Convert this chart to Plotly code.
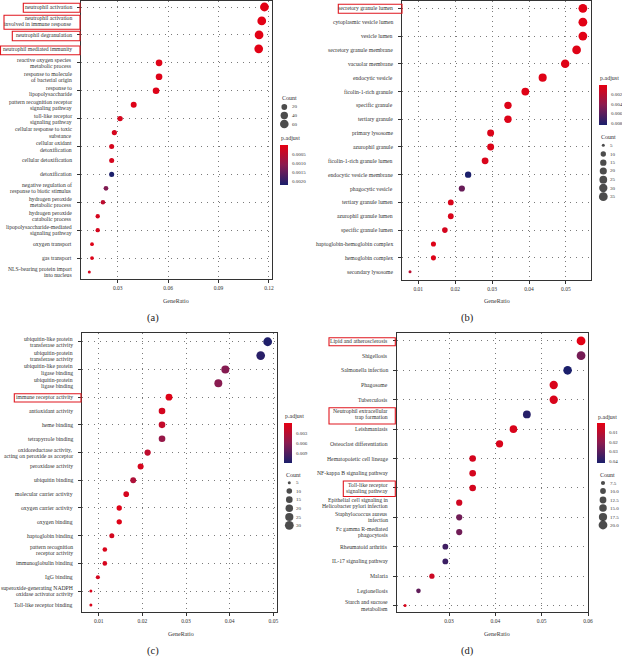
import plotly.graph_objects as go

W, H = 622, 657
FONT = "Liberation Serif"

# ---------------- data ----------------
a_terms = ["neutrophil activation",
           "neutrophil activation<br>involved in immune response",
           "neutrophil degranulation",
           "neutrophil mediated immunity",
           "reactive oxygen species<br>metabolic process",
           "response to molecule<br>of bacterial origin",
           "response to<br>lipopolysaccharide",
           "pattern recognition receptor<br>signaling pathway",
           "toll-like receptor<br>signaling pathway",
           "cellular response to toxic<br>substance",
           "cellular oxidant<br>detoxification",
           "cellular detoxification",
           "detoxification",
           "negative regulation of<br>response to biotic stimulus",
           "hydrogen peroxide<br>metabolic process",
           "hydrogen peroxide<br>catabolic process",
           "lipopolysaccharide-mediated<br>signaling pathway",
           "oxygen transport",
           "gas transport",
           "NLS-bearing protein import<br>into nucleus"]
a_ratio = [0.1173, 0.1157, 0.1141, 0.1139, 0.0546, 0.0546, 0.0528, 0.0395, 0.0314, 0.0280,
           0.0264, 0.0264, 0.0264, 0.0230, 0.0212, 0.0181, 0.0181, 0.0147, 0.0147, 0.0131]
a_count = [64, 63, 62, 62, 30, 30, 29, 22, 17, 15, 14, 14, 14, 12, 11, 10, 10, 8, 8, 7]
a_padj = [0.00005, 0.00005, 0.00005, 0.00005, 0.00008, 0.0001, 0.0001, 0.0001, 0.0002, 0.0002,
          0.0002, 0.0002, 0.0022, 0.0012, 0.0005, 0.0002, 0.0002, 0.0001, 0.0001, 0.0002]

b_terms = ["secretory granule lumen", "cytoplasmic vesicle lumen", "vesicle lumen",
           "secretory granule membrane", "vacuolar membrane", "endocytic vesicle",
           "ficolin-1-rich granule", "specific granule", "tertiary granule", "primary lysosome",
           "azurophil granule", "ficolin-1-rich granule lumen", "endocytic vesicle membrane",
           "phagocytic vesicle", "tertiary granule lumen", "azurophil granule lumen",
           "specific granule lumen", "haptoglobin-hemoglobin complex", "hemoglobin complex",
           "secondary lysosome"]
b_ratio = [0.0546, 0.0546, 0.0546, 0.0529, 0.0498, 0.0437, 0.0390, 0.0343, 0.0343, 0.0296,
           0.0296, 0.0281, 0.0235, 0.0218, 0.0188, 0.0188, 0.0172, 0.0141, 0.0141, 0.00775]
b_count = [35, 35, 35, 34, 32, 28, 25, 22, 22, 19, 19, 18, 15, 14, 12, 12, 11, 9, 9, 5]
b_padj = [0.0002, 0.0002, 0.0002, 0.0003, 0.0003, 0.0003, 0.0003, 0.0004, 0.0004, 0.0005,
          0.0005, 0.0006, 0.0084, 0.0055, 0.0006, 0.0006, 0.0008, 0.0004, 0.0004, 0.0020]

c_terms = ["ubiquitin-like protein<br>transferase activity",
           "ubiquitin-protein<br>transferase activity",
           "ubiquitin-like protein<br>ligase binding",
           "ubiquitin-protein<br>ligase binding",
           "immune receptor activity",
           "antioxidant activity",
           "heme binding",
           "tetrapyrrole binding",
           "oxidoreductase activity,<br>acting on peroxide as acceptor",
           "peroxidase activity",
           "ubiquitin binding",
           "molecular carrier activity",
           "oxygen carrier activity",
           "oxygen binding",
           "haptoglobin binding",
           "pattern recognition<br>receptor activity",
           "immunoglobulin binding",
           "IgG binding",
           "superoxide-generating NADPH<br>oxidase activator activity",
           "Toll-like receptor binding"]
c_ratio = [0.0487, 0.0471, 0.0390, 0.0374, 0.0261, 0.0245, 0.0245, 0.0245, 0.0212, 0.0196,
           0.0179, 0.0163, 0.0147, 0.0147, 0.0130, 0.0114, 0.0114, 0.0098, 0.0082, 0.0082]
c_count = [30, 29, 24, 23, 16, 15, 15, 15, 13, 12, 11, 10, 9, 9, 8, 7, 7, 6, 5, 5]
c_padj = [0.0113, 0.0108, 0.0060, 0.0058, 0.0005, 0.0012, 0.0022, 0.0050, 0.0025, 0.0010,
          0.0035, 0.0010, 0.0005, 0.0005, 0.0012, 0.0008, 0.0010, 0.0012, 0.0008, 0.0008]

d_terms = ["Lipid and atherosclerosis", "Shigellosis", "Salmonella infection", "Phagosome",
           "Tuberculosis", "Neutrophil extracellular<br>trap formation", "Leishmaniasis",
           "Osteoclast differentiation", "Hematopoietic cell lineage",
           "NF-kappa B signaling pathway", "Toll-like receptor<br>signaling pathway",
           "Epithelial cell signaling in<br>Helicobacter pylori infection",
           "Staphylococcus aureus<br>infection", "Fc gamma R-mediated<br>phagocytosis",
           "Rheumatoid arthritis", "IL-17 signaling pathway", "Malaria", "Legionellosis",
           "Starch and sucrose<br>metabolism"]
d_ratio = [0.0585, 0.0585, 0.0556, 0.0526, 0.0526, 0.0468, 0.0439, 0.0409, 0.0351, 0.0351,
           0.0351, 0.0322, 0.0322, 0.0322, 0.0292, 0.0292, 0.0263, 0.0234, 0.0205]
d_count = [20, 20, 19, 18, 18, 16, 15, 14, 12, 12, 12, 11, 11, 11, 10, 10, 9, 8, 7]
d_padj = [0.001, 0.025, 0.042, 0.003, 0.003, 0.040, 0.003, 0.003, 0.004, 0.004,
          0.004, 0.005, 0.026, 0.026, 0.035, 0.036, 0.006, 0.029, 0.003]

# tick / legend labels
a_xticks = [0.03, 0.06, 0.09, 0.12]
b_xticks = [0.01, 0.02, 0.03, 0.04, 0.05]
c_xticks = [0.01, 0.02, 0.03, 0.04, 0.05]
d_xticks = [0.03, 0.04, 0.05, 0.06]
a_cbticks = [0.0005, 0.0010, 0.0015, 0.0020]
b_cbticks = [0.002, 0.004, 0.006, 0.008]
c_cbticks = [0.003, 0.006, 0.009]
d_cbticks = [0.01, 0.02, 0.03, 0.04]
a_cnt_leg = [20, 40, 60]
b_cnt_leg = [5, 10, 15, 20, 25, 30, 35]
c_cnt_leg = [5, 10, 15, 20, 25, 30]
d_cnt_leg = [7.5, 10.0, 12.5, 15.0, 17.5, 20.0]

# ---------------- helpers ----------------
def px(x):
    return x / W

def py(y):
    return 1 - y / H

COLORSCALE = [[0.0, "#1B1F6B"], [0.5, "#8A1B50"], [1.0, "#E60012"]]
TXT = "#333333"

def diam(c, lo, hi, dmin=3.0, dmax=8.8):
    t = (c - lo) / (hi - lo) if hi > lo else 1
    t = max(0.0, min(1.0, t))
    return dmin + (dmax - dmin) * t ** 0.5

panels = [
    dict(key="", terms=a_terms, ratio=a_ratio, count=a_count, padj=a_padj,
         xdom=(81, 272), ydom=(1, 279), xr=(0.00815, 0.1218), yr=(19.5, -0.43),
         xticks=a_xticks, cbmax=0.0022, cbticks=a_cbticks, cbfmt="{:.4f}",
         cb=(280, 145, 185), cnt=a_cnt_leg, cntfmt="{:g}",
         cntpos=(280, 98, 284.3, 290, [107, 115.5, 124]),
         gr=(176, 301), lab=("(a)", 153, 318)),
    dict(key="2", terms=b_terms, ratio=b_ratio, count=b_count, padj=b_padj,
         xdom=(402, 591), ydom=(1, 280), xr=(0.00558, 0.0568), yr=(19.6, -0.53),
         xticks=b_xticks, cbmax=0.0084, cbticks=b_cbticks, cbfmt="{:.3f}",
         cb=(598.7, 85, 125), cnt=b_cnt_leg, cntfmt="{:g}",
         cntpos=(599, 137, 603.3, 608, [145.3, 154, 162.7, 171, 179.7, 188, 196.7]),
         gr=(497, 301), lab=("(b)", 467, 318)),
    dict(key="3", terms=c_terms, ratio=c_ratio, count=c_count, padj=c_padj,
         xdom=(82, 276.7), ydom=(333.3, 612.3), xr=(0.00617, 0.05077), yr=(19.53, -0.61),
         xticks=c_xticks, cbmax=0.0115, cbticks=c_cbticks, cbfmt="{:.3f}",
         cb=(284, 422.7, 462.3), cnt=c_cnt_leg, cntfmt="{:g}",
         cntpos=(284, 475, 289.3, 294, [482.7, 491, 499.7, 508.3, 517, 525.3]),
         gr=(181, 634), lab=("(c)", 153, 651)),
    dict(key="4", terms=d_terms, ratio=d_ratio, count=d_count, padj=d_padj,
         xdom=(396.7, 588), ydom=(333.3, 612), xr=(0.0187, 0.0600), yr=(18.44, -0.52),
         xticks=d_xticks, cbmax=0.042, cbticks=d_cbticks, cbfmt="{:.2f}",
         cb=(597, 423, 463), cnt=d_cnt_leg, cntfmt="{:.1f}",
         cntpos=(598, 475, 603, 608, [483, 491, 500, 508, 517, 525]),
         gr=(497, 634), lab=("(d)", 467, 651)),
]

fig = go.Figure()
annotations = []
shapes = []
layout = {}
leg_x, leg_y, leg_s = [], [], []

def note(text, x, y, xanchor="left", yanchor="middle", size=5.5, color=TXT, xref="paper", yref="paper"):
    annotations.append(dict(text=text, x=x, y=y, xref=xref, yref=yref, xanchor=xanchor,
                            yanchor=yanchor, showarrow=False, align="right",
                            font=dict(family=FONT, size=size, color=color)))

for p in panels:
    k = p["key"]
    lo, hi = min(p["count"]), max(p["count"])
    sizes = [diam(c, lo, hi) for c in p["count"]]
    cb_x, cb_top, cb_bot = p["cb"]
    fig.add_trace(go.Scatter(
        x=p["ratio"], y=p["terms"], mode="markers",
        xaxis="x" + k, yaxis="y" + k, showlegend=False, hoverinfo="x+y",
        marker=dict(size=sizes, color=[-v for v in p["padj"]], colorscale=COLORSCALE,
                    cmin=-p["cbmax"], cmax=0, line=dict(width=0), opacity=1,
                    showscale=True,
                    colorbar=dict(x=px(cb_x), xanchor="left", y=py((cb_top + cb_bot) / 2),
                                  yanchor="middle", len=cb_bot - cb_top, lenmode="pixels",
                                  thickness=8, thicknessmode="pixels", xpad=0, ypad=0,
                                  outlinewidth=0, ticks="", showticklabels=False))))
    axis_common = dict(showline=True, linecolor="#333", linewidth=1.2, mirror=True,
                       ticks="outside", ticklen=3, tickwidth=1, tickcolor="#333",
                       showgrid=True, gridcolor="#7a7a7a", gridwidth=1, zeroline=False,
                       automargin=False)
    layout["xaxis" + k] = dict(axis_common, domain=[px(p["xdom"][0]), px(p["xdom"][1])],
                               range=list(p["xr"]), tickvals=p["xticks"], tickformat=".2f",
                               anchor="y" + k, griddash="1px,4px",
                               tickfont=dict(family=FONT, size=5.5, color=TXT))
    layout["yaxis" + k] = dict(axis_common, domain=[py(p["ydom"][1]), py(p["ydom"][0])],
                               type="category", categoryorder="array", categoryarray=p["terms"],
                               range=list(p["yr"]), anchor="x" + k, griddash="1px,5px",
                               showticklabels=False)
    # y labels, line by line, tight line spacing
    ytop, ybot = p["ydom"]
    r0, r1 = p["yr"]
    unit = (ybot - ytop) / (r0 - r1)  # px per category
    for i, term in enumerate(p["terms"]):
        lines = term.split("<br>")
        n = len(lines)
        for j, ln in enumerate(lines):
            off = (j - (n - 1) / 2) * 6.1 / unit
            note(ln, px(p["xdom"][0] - 7), i + off, xanchor="right", size=5.7,
                 yref="y" + k)
    # colorbar labels and title
    note("p.adjust", px(cb_x - 1), py(cb_top - 1.5), yanchor="bottom", size=6)
    for v in p["cbticks"]:
        yy = cb_top + v / p["cbmax"] * (cb_bot - cb_top)
        note(p["cbfmt"].format(v), px(cb_x + 10), py(yy), size=5)
    # count legend
    cx, cy, dx, tx, dys = p["cntpos"]
    note("Count", px(cx), py(cy), size=6)
    for v, yy in zip(p["cnt"], dys):
        leg_x.append(dx)
        leg_y.append(yy)
        leg_s.append(diam(v, lo, hi))
        note(p["cntfmt"].format(v), px(tx), py(yy), size=5)
    gx, gy = p["gr"]
    note("GeneRatio", px(gx), py(gy), xanchor="center", size=6)
    t, lx, ly = p["lab"]
    note(t, px(lx), py(ly), xanchor="center", size=10.5, color="#222")

fig.add_trace(go.Scatter(x=leg_x, y=leg_y, mode="markers", xaxis="x5", yaxis="y5",
                         showlegend=False, hoverinfo="skip", cliponaxis=False,
                         marker=dict(size=leg_s, color="black", line=dict(width=0))))
layout["xaxis5"] = dict(domain=[0, 1], range=[0, W], visible=False, anchor="y5",
                        fixedrange=True, automargin=False)
layout["yaxis5"] = dict(domain=[0, 1], range=[H, 0], visible=False, anchor="x5",
                        fixedrange=True, automargin=False)

# red boxes around highlighted terms (pixel coordinates)
boxes = [(23.3, 3.3, 80, 12.3), (4, 15.3, 80, 29.3), (12.3, 31.3, 80, 40.7), (0.5, 46, 80, 54.7),
         (338.3, 4.3, 402, 13.3),
         (14.3, 393.7, 81, 402),
         (329, 337.7, 395.3, 345.7), (329, 407.7, 395.3, 424), (343.3, 481, 395.3, 496.5)]
for x0, y0, x1, y1 in boxes:
    shapes.append(dict(type="rect", xref="paper", yref="paper", x0=px(x0), x1=px(x1),
                       y0=py(y1), y1=py(y0), line=dict(color="#E0161E", width=1.1)))

fig.update_layout(width=W, height=H, autosize=False, margin=dict(l=0, r=0, t=0, b=0, pad=0),
                  paper_bgcolor="white", plot_bgcolor="rgba(0,0,0,0)",
                  annotations=annotations, shapes=shapes, showlegend=False, **layout)
fig.write_html("out.html", config={"displayModeBar": False},
               post_script="document.body.style.margin='0';document.body.style.padding='0';")
